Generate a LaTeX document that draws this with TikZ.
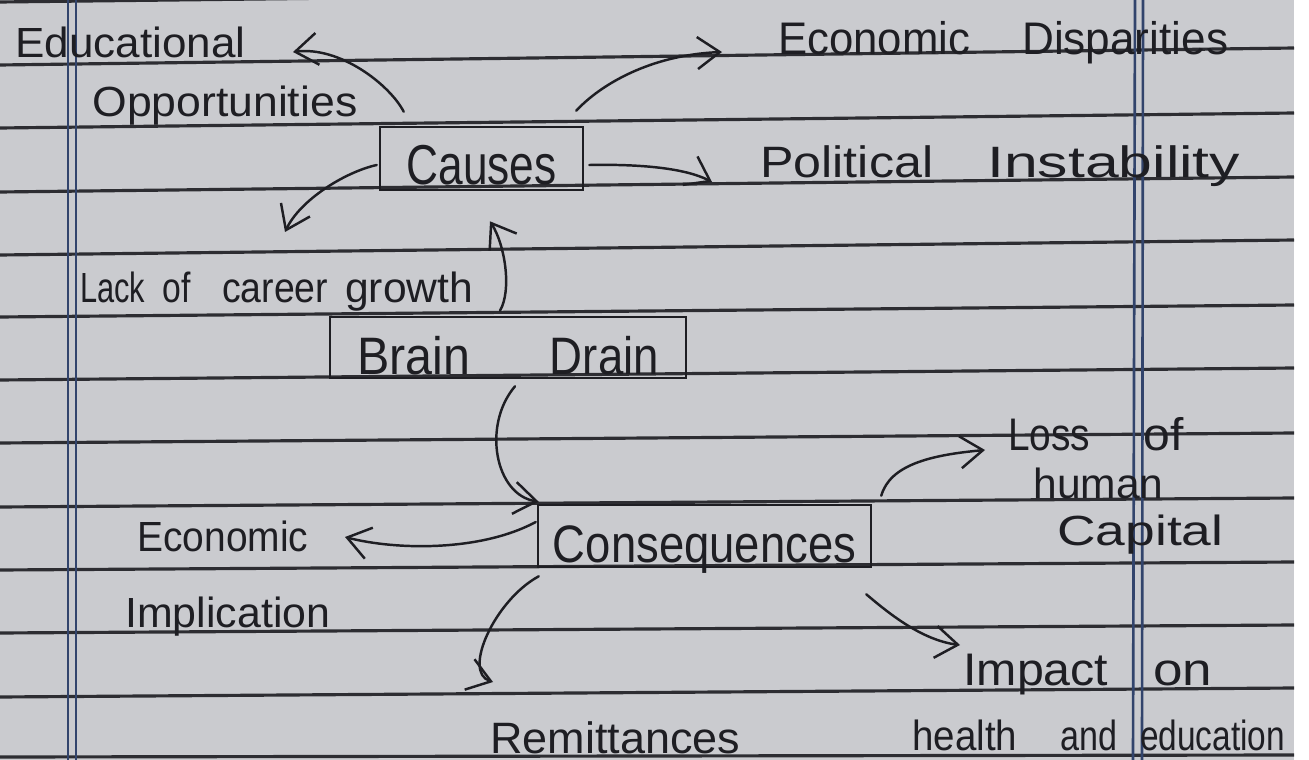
\documentclass[tikz,border=0pt]{standalone}
\usepackage{fontspec}
\setmainfont{Liberation Sans}
\usetikzlibrary{arrows.meta}
\definecolor{paper}{RGB}{202,203,207}
\definecolor{rulecol}{RGB}{45,45,50}
\definecolor{margincol}{RGB}{50,68,108}
\definecolor{ink}{RGB}{30,30,35}
\newcommand\hwd[2]{\resizebox{#1}{\height}{#2}}
\begin{document}
\begin{tikzpicture}[x=0.02cm,y=-0.02cm,
  lbl/.style={anchor=base west,inner sep=0pt,text=ink,font=\fontsize{24}{28}\selectfont},
  boxnode/.style={draw=ink,line width=1.5pt,inner sep=0pt,text=ink},
  ruled/.style={draw=rulecol,line width=1.8pt},
  marginline/.style={draw=margincol,line width=1.5pt},
  arr/.style={draw=ink,line width=1.4pt,line cap=round,
    -{Straight Barb[length=0.45cm,width=0.64cm,line width=1.4pt]}}]
\useasboundingbox (0,0) rectangle (1309,760);
\fill[white] (0,0) rectangle (1309,760);
\begin{scope}
\clip (0,0) rectangle (1294,760);
\fill[paper] (0,0) rectangle (1294,760);
% ruled lines
\foreach \ya/\yb in {2/-13,65/48,128/113,192/177,255/240,317/305,380/368,443/433,507/498,570/562,633/625,697/688,757/755}
  \draw[ruled] (0,\ya) -- (1294,\yb);
% margin lines
\draw[marginline] (68,0) -- (68,760);
\draw[marginline] (76,0) -- (76,760);
\draw[marginline] (1135,0) -- (1133,760);
\draw[marginline] (1143,0) -- (1142,760);

% boxes
\node[boxnode,minimum width=4.06cm,minimum height=1.26cm,text height=1.16cm,text depth=0.1cm,
  font=\fontsize{32}{36}\selectfont] (causes) at (481.5,158.5) {\hwd{85.4pt}{Causes}};
\node[boxnode,minimum width=7.12cm,minimum height=1.22cm,text height=1.14cm,text depth=0.04cm,
  font=\fontsize{30}{34}\selectfont] (brain) at (508,347.5) {\hwd{64.3pt}{Brain}\hspace{45.5pt}\hwd{62pt}{Drain}};
\node[boxnode,minimum width=6.66cm,minimum height=1.24cm,text height=1.14cm,text depth=0.06cm,
  font=\fontsize{30}{34}\selectfont] (cons) at (704.5,536) {\hwd{172.5pt}{Consequences}};

% labels
\node[lbl] (edu) at (15,58) {\hwd{130.9pt}{Educational}};
\node[lbl] (opp) at (92,117) {\hwd{150.8pt}{Opportunities}};
\node[lbl,font=\fontsize{26}{30}\selectfont] (econdisp) at (778,55) {\hwd{109.2pt}{Economic}\hspace{29.6pt}\hwd{117.2pt}{Disparities}};
\node[lbl,font=\fontsize{25}{30}\selectfont] (polit) at (760,178) {\hwd{98.4pt}{Political}\hspace{30.7pt}\hwd{144pt}{Instability}};
\node[lbl] (lack) at (80,303) {\hwd{37pt}{Lack}\hspace{9.7pt}\hwd{16pt}{of}\hspace{18pt}\hwd{60.3pt}{career}\hspace{9.7pt}\hwd{72.8pt}{growth}};
\node[lbl] (econimp) at (137,551) {\hwd{97.3pt}{Economic}};
\node[lbl] (impl) at (125,627) {\hwd{116.6pt}{Implication}};
\node[lbl,font=\fontsize{25}{30}\selectfont] (remit) at (490,753) {\hwd{142.3pt}{Remittances}};
\node[lbl,font=\fontsize{26}{30}\selectfont] (loss) at (1008,450) {\hwd{46.7pt}{Loss}\hspace{30.2pt}\hwd{22.8pt}{of}};
\node[lbl] (human) at (1033,498) {\hwd{74pt}{human}};
\node[lbl] (capital) at (1057,545) {\hwd{94.5pt}{Capital}};
\node[lbl,font=\fontsize{26}{30}\selectfont] (impact) at (963,685) {\hwd{82.5pt}{Impact}\hspace{25.6pt}\hwd{33.6pt}{on}};
\node[lbl,font=\fontsize{24}{30}\selectfont] (health) at (912,750) {\hwd{59.7pt}{health}\hspace{24.5pt}\hwd{32.4pt}{and}\hspace{13pt}\hwd{82.5pt}{education}};

% connectors
\draw[arr] ([shift={(25,-14)}]causes.north west) .. controls (390,85) and (340,46) .. ([shift={(278,-6)}]edu.base west);
\draw[arr] ([shift={(-8,-15)}]causes.north east) .. controls (600,85) and (650,55) .. ([shift={(-56,-3)}]econdisp.base west);
\draw[arr] ([shift={(5,6.5)}]causes.east) .. controls (640,164) and (685,168) .. ([shift={(-48,4)}]polit.base west);
\draw[arr] ([shift={(-2,6.5)}]causes.west) .. controls (345,172) and (300,200) .. ([shift={(205,-71)}]lack.base west);
\draw[arr] ([shift={(-8,-5)}]brain.north) .. controls (512,290) and (505,245) .. ([shift={(8.5,30)}]causes.south);
\draw[arr] ([shift={(7,7)}]brain.south) .. controls (482,425) and (495,495) .. ([shift={(2,-2)}]cons.north west);
\draw[arr] ([shift={(-1,-14)}]cons.west) .. controls (480,552) and (395,550) .. ([shift={(208,-14)}]econimp.base west);
\draw[arr] ([shift={(2,8)}]cons.south west) .. controls (495,600) and (462,672) .. ([shift={(3,-71)}]remit.base west);
\draw[arr] ([shift={(9,-8)}]cons.north east) .. controls (890,465) and (930,455) .. ([shift={(-23,0)}]loss.base west);
\draw[arr] ([shift={(-6,26)}]cons.south east) .. controls (885,610) and (920,640) .. ([shift={(-3,-40)}]impact.base west);
\end{scope}
\end{tikzpicture}
\end{document}
